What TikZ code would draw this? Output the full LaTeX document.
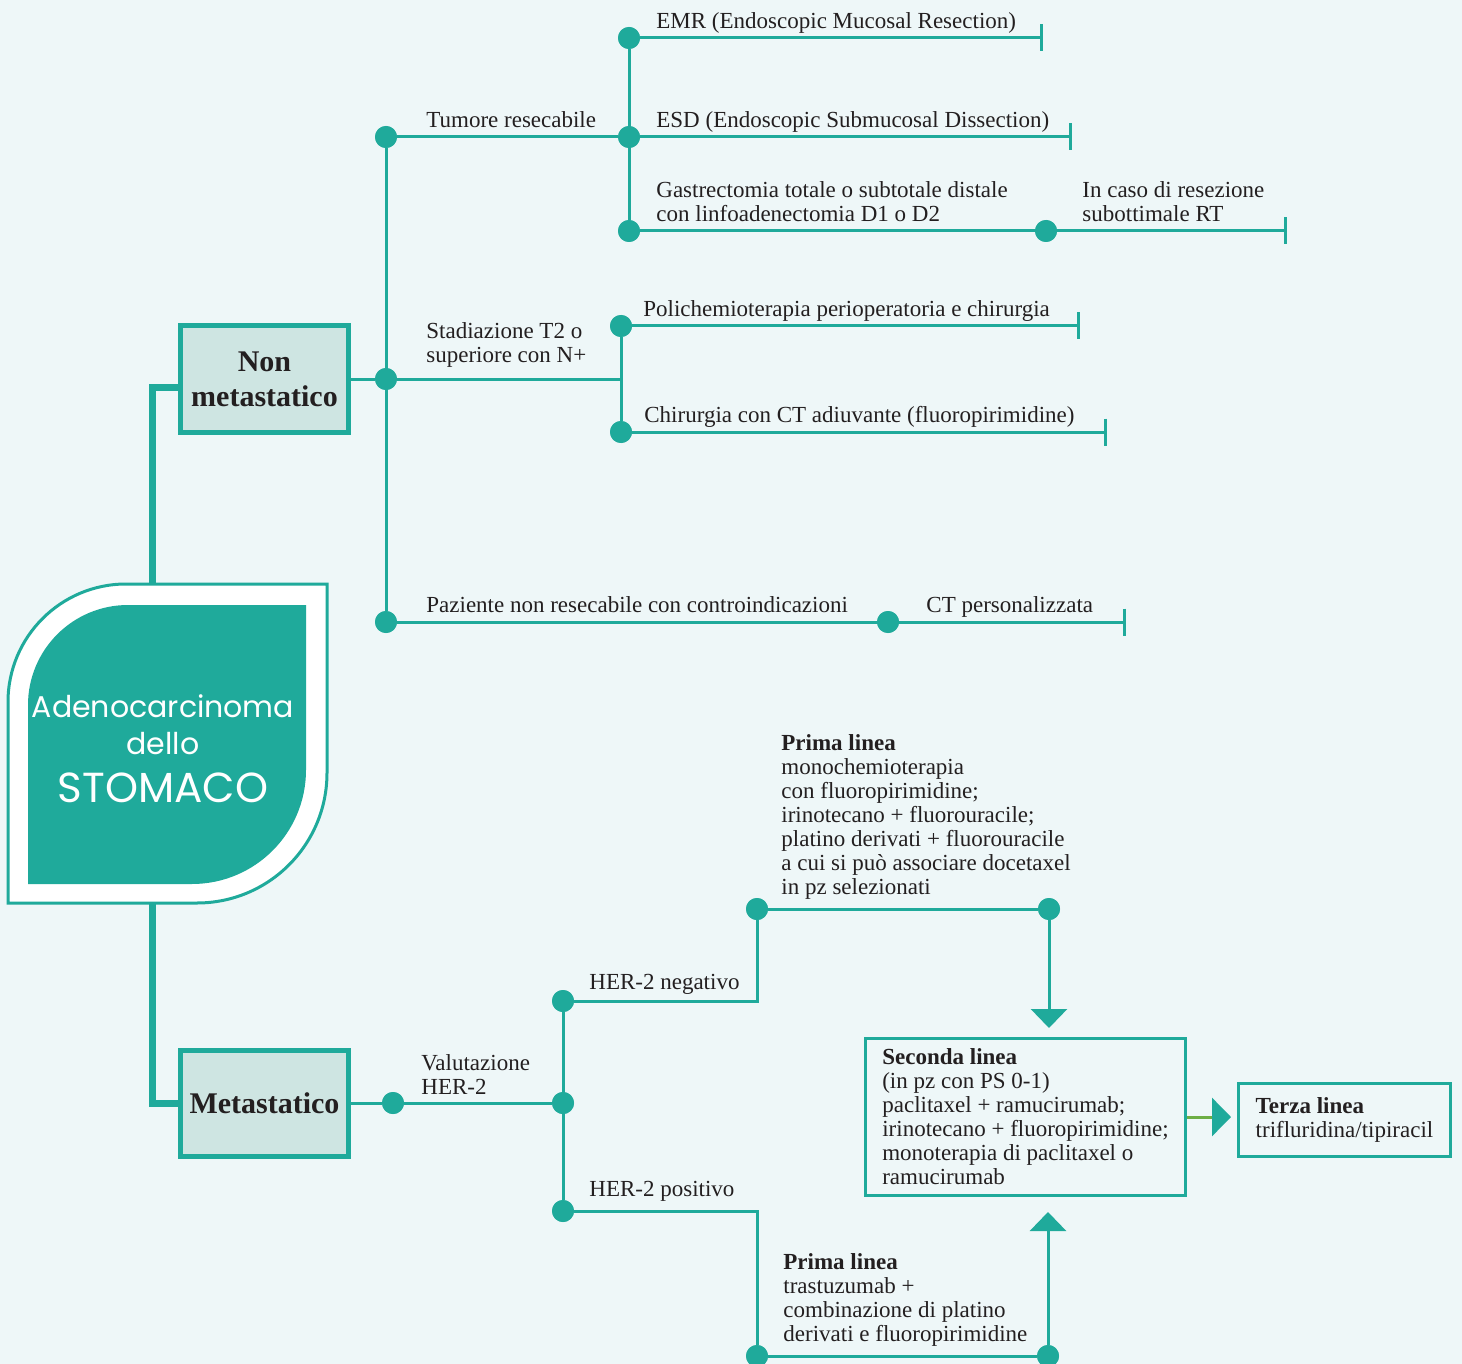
\documentclass[tikz,border=0pt]{standalone}
\usepackage{fontspec}
\setmainfont{Liberation Serif}
\newfontfamily\titlefont{Poppins}
\usetikzlibrary{positioning, arrows.meta}
\definecolor{mapteal}{HTML}{1FAA9B}
\definecolor{mapbg}{HTML}{EEF7F8}
\definecolor{boxfill}{HTML}{CEE5E2}
\definecolor{linkgreen}{HTML}{6DAE45}
\definecolor{maptext}{HTML}{231F20}

\begin{document}
\begin{tikzpicture}[x=0.5pt, y=-0.5pt,
		dot/.style={circle, fill=mapteal, inner sep=0pt, minimum size=11pt},
		link/.style={draw=mapteal, line width=1.5pt},
		trunk/.style={draw=mapteal, line width=3.5pt},
		endbar/.style={-{Bar[width=13.5pt]}},
		tri/.style={-{Triangle[width=18pt, length=9.5pt]}},
		txt/.style={anchor=south west, inner sep=0pt, align=left, text depth=2.5pt, text=maptext, font=\fontsize{11.5pt}{12pt}\selectfont},
		stage/.style={draw=mapteal, line width=2.5pt, fill=boxfill, minimum width=84pt, minimum height=53pt, align=center, text=maptext, font=\fontsize{15pt}{17.5pt}\selectfont\bfseries},
		linebox/.style={draw=mapteal, line width=1.5pt, align=left, text=maptext, font=\fontsize{11.5pt}{12pt}\selectfont},
		title/.style={text=white, inner sep=0pt}
		]
		\fill[mapbg] (0,0) rectangle (1462,1364);
		\useasboundingbox (0,0) rectangle (1462,1364);

		% stomaco
		\draw[mapteal, line width=1.5pt, fill=white] (8,903) -- (8,702) arc[start angle=180, end angle=270, radius=118] -- (327,584) -- (327,773) arc[start angle=0, end angle=90, radius=130] -- cycle;
		\fill[mapteal] (28,884) -- (28,705) arc[start angle=180, end angle=270, radius=100] -- (306,605) -- (306,770) arc[start angle=0, end angle=90, radius=114] -- cycle;
		\node[title, font=\titlefont\fontsize{15pt}{18pt}\selectfont] (ttl1) at (163,706) {Adenocarcinoma};
		\node[title, font=\titlefont\fontsize{15pt}{18pt}\selectfont] (ttl2) at (163,744) {dello};
		\node[title, font=\titlefont\fontsize{21pt}{24pt}\selectfont] (ttl3) at (163,788) {STOMACO};
		\coordinate (stomtop) at (152,584);
		\coordinate (stombot) at (152,903);

		\node[stage] (nm) at (264.5,379) {Non\\metastatico};
		\node[stage] (met) at (264.5,1103) {Metastatico};
		\draw[trunk] ([yshift=-4pt]nm.west) -| (stomtop);
		\draw[trunk] (met.west) -| (stombot);

		% non metastatico
		\node[dot] (a1) at (386,137) {};
		\node[dot] (a2) at (386,379) {};
		\node[dot] (a3) at (386,622) {};
		\node[dot] (b1) at (629,38) {};
		\node[dot] (b2) at (629,137) {};
		\node[dot] (b3) at (629,231) {};
		\node[dot] (c1) at (1046,231) {};
		\node[dot] (c3) at (621,326) {};
		\node[dot] (c4) at (621,432) {};
		\node[dot] (d1) at (888,622) {};
		\coordinate (c2) at (621,379);
		\coordinate (e1) at (1043,38);
		\coordinate (e2) at (1072,137);
		\coordinate (e3) at (1287,231);
		\coordinate (e4) at (1080,326);
		\coordinate (e5) at (1107,432);
		\coordinate (e6) at (1126,622);

		\draw[link] (nm.east) -- (a2);
		\draw[link] (a1) -- (a3);
		\draw[link] (a1) -- (b2);
		\draw[link] (b1) -- (b3);
		\draw[link, endbar] (b1) -- (e1);
		\draw[link, endbar] (b2) -- (e2);
		\draw[link, endbar] (b3) -- (e3);
		\draw[link] (a2) -- (c2);
		\draw[link] (c3) -- (c4);
		\draw[link, endbar] (c3) -- (e4);
		\draw[link, endbar] (c4) -- (e5);
		\draw[link, endbar] (a3) -- (e6);
		\foreach \d in {a1,a2,a3,b1,b2,b3,c1,c3,c4,d1}
			\node[dot] at (\d) {};

		\node[txt] (l1) at (426,133) {Tumore resecabile};
		\node[txt] (l2) at (656,34) {EMR (Endoscopic Mucosal Resection)};
		\node[txt] (l3) at (656,133) {ESD (Endoscopic Submucosal Dissection)};
		\node[txt] (l4) at (656,227) {Gastrectomia totale o subtotale distale\\con linfoadenectomia D1 o D2};
		\node[txt] (l5) at (1082,227) {In caso di resezione\\subottimale RT};
		\node[txt] (l6) at (426,368) {Stadiazione T2 o\\superiore con N+};
		\node[txt] (l7) at (643,322) {Polichemioterapia perioperatoria e chirurgia};
		\node[txt] (l8) at (644,428) {Chirurgia con CT adiuvante (fluoropirimidine)};
		\node[txt] (l9) at (426,618) {Paziente non resecabile con controindicazioni};
		\node[txt] (l10) at (926,618) {CT personalizzata};

		% metastatico
		\node[dot] (m1) at (393,1103) {};
		\node[dot] (m2) at (563,1103) {};
		\node[dot] (h1) at (563,1001) {};
		\node[dot] (h2) at (563,1211) {};
		\node[dot] (p1) at (757,909) {};
		\node[dot] (p2) at (1049,909) {};
		\node[dot] (q1) at (757,1356) {};
		\node[dot] (q2) at (1048,1356) {};
		\coordinate (t1) at (1049,1028);
		\coordinate (t2) at (1048,1212);
		\coordinate (t3) at (1231,1117);
		\node[linebox, minimum width=160pt, minimum height=78.5pt] (sec) at (1025.5,1117) {\textbf{Seconda linea}\\(in pz con PS 0-1)\\paclitaxel + ramucirumab;\\irinotecano + fluoropirimidine;\\monoterapia di paclitaxel o\\ramucirumab};
		\node[linebox, minimum width=106pt, minimum height=36.5pt] (ter) at (1344.5,1120) {\textbf{Terza linea}\\trifluridina/tipiracil};

		\draw[link] (met.east) -- (m1);
		\draw[link] (m1) -- (m2);
		\draw[link] (h1) -- (h2);
		\draw[link] (h1) -| (p1);
		\draw[link] (p1) -- (p2);
		\draw[link, tri] (p2) -- (t1);
		\draw[link] (h2) -| (q1);
		\draw[link] (q1) -- (q2);
		\draw[link, tri] (q2) -- (t2);
		\draw[draw=linkgreen, line width=1.5pt, -{Triangle[width=19pt, length=9.5pt, color=mapteal]}] (sec.east) -- (t3);
		\foreach \d in {m1,m2,h1,h2,p1,p2,q1,q2}
			\node[dot] at (\d) {};

		\node[txt] (k1) at (421,1100) {Valutazione\\HER-2};
		\node[txt] (k2) at (589,995) {HER-2 negativo};
		\node[txt] (k3) at (589,1202) {HER-2 positivo};
		\node[txt] (k4) at (781,900) {\textbf{Prima linea}\\monochemioterapia\\con fluoropirimidine;\\irinotecano + fluorouracile;\\platino derivati + fluorouracile\\a cui si può associare docetaxel\\in pz selezionati};
		\node[txt] (k5) at (783,1347) {\textbf{Prima linea}\\trastuzumab +\\combinazione di platino\\derivati e fluoropirimidine};
	\end{tikzpicture}
\end{document}
